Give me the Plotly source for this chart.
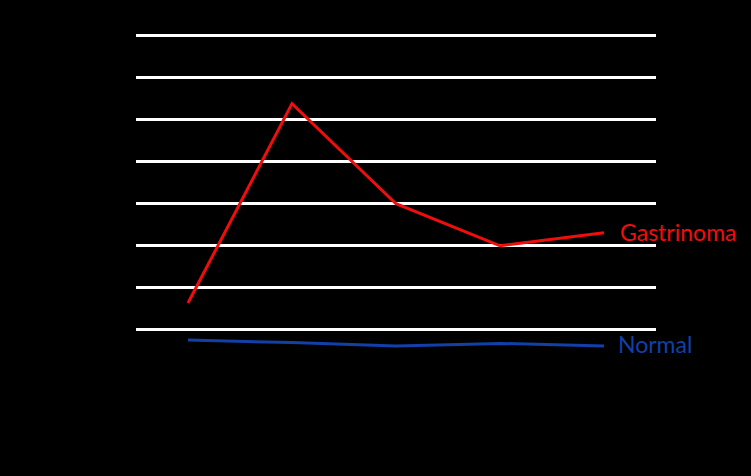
import plotly.graph_objects as go

# time points (minutes after secretin) and serum gastrin
time_points = ["0", "2", "5", "10", "15"]
gastrinoma = [164, 638, 400, 300, 331]
normal = [76, 70, 62, 68, 62]
y_ticks = [100, 200, 300, 400, 500, 600, 700, 800]

RED = "#f20d0d"
BLUE = "#1040a8"

fig = go.Figure()
fig.add_trace(go.Scatter(x=time_points, y=gastrinoma, mode="lines", name="Gastrinoma",
                         line={"color": RED, "width": 3}))
fig.add_trace(go.Scatter(x=time_points, y=normal, mode="lines", name="Normal",
                         line={"color": BLUE, "width": 3}))

# labels at the end of each line (category index of last point)
last = len(time_points) - 1
fig.add_annotation(x=last, y=gastrinoma[-1], text="Gastrinoma", showarrow=False,
                   xanchor="left", xshift=14, yshift=1,
                   font={"family": "Lato", "size": 23, "color": RED})
fig.add_annotation(x=last, y=normal[-1], text="Normal", showarrow=False,
                   xanchor="left", xshift=12, yshift=2,
                   font={"family": "Lato", "size": 23, "color": BLUE})

fig.update_xaxes(type="category", range=[-0.5, 4.5], showgrid=False, zeroline=False,
                 showline=False, ticks="", tickfont={"color": "black", "size": 14})
fig.update_yaxes(range=[0, 806], tickvals=y_ticks, showgrid=True, gridcolor="white",
                 gridwidth=2.5, zeroline=False, showline=False,
                 tickfont={"color": "black", "size": 14})
fig.update_layout(
    width=751, height=476, showlegend=False,
    paper_bgcolor="black", plot_bgcolor="black",
    margin={"l": 136, "r": 95, "t": 33, "b": 104},
)
fig.write_html("out.html", config={"displayModeBar": False},
               post_script="document.body.style.margin='0';")
